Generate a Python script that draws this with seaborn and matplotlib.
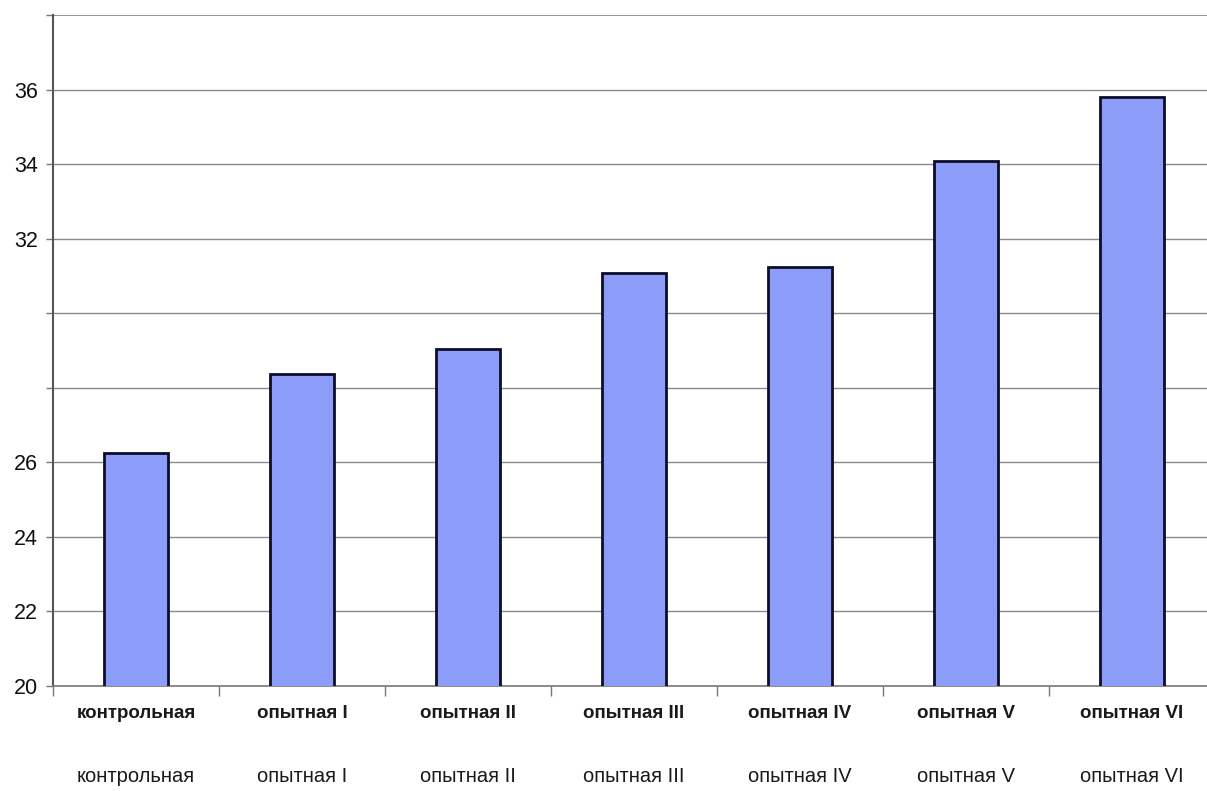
import matplotlib
matplotlib.use("Agg")
import matplotlib.pyplot as plt
import matplotlib.transforms as mtransforms
import seaborn as sns
import pandas as pd
import numpy as np

groups = ["контрольная", "опытная I", "опытная II", "опытная III",
          "опытная IV", "опытная V", "опытная VI"]
values = [26.25, 28.37, 29.04, 31.09, 31.25, 34.08, 35.8]
ytick_vals = [20, 22, 24, 26, 28, 30, 32, 34, 36, 38]
ytick_text = ["20", "22", "24", "26", "", "", "32", "34", "36", ""]

sns.set_theme(style="white")
plt.rcParams["font.family"] = ["Liberation Sans", "DejaVu Sans"]

df = pd.DataFrame({"group": groups, "value": values})

fig = plt.figure(figsize=(12.07, 7.91), dpi=100)
ax = fig.add_axes([53 / 1207, 1 - 686 / 791, (1215 - 53) / 1207, (686 - 15) / 791])

sns.barplot(data=df, x="group", y="value", color="#8b9cf9", width=0.39,
            edgecolor="#0d0d2a", linewidth=2.0, saturation=1, ax=ax, zorder=3)

ax.set_ylim(20, 38)
ax.set_xlim(-0.5, len(groups) - 0.5)
ax.set_yticks(ytick_vals)
ax.set_yticklabels(ytick_text, fontsize=15.5, color="#111111")
for y in ytick_vals[1:]:
    ax.axhline(y, color="#8a8a8a", lw=1.3 if y == 38 else 1.0, zorder=1)

ax.set_xticks(range(len(groups)))
ax.set_xticklabels(groups, fontsize=13.5, fontweight="bold", color="#1a1a1a")
ax.tick_params(axis="x", which="major", length=0, pad=14)
ax.set_xticks(np.arange(-0.5, len(groups), 1.0), minor=True)
ax.tick_params(axis="x", which="minor", length=7, width=1, color="#777777",
               direction="out", bottom=True)
ax.tick_params(axis="y", length=5, width=1, color="#777777", left=True,
               direction="out", pad=6)

ax.set_xlabel("")
ax.set_ylabel("")
for side in ["top", "right"]:
    ax.spines[side].set_visible(False)
ax.spines["left"].set_color("#555555")
ax.spines["left"].set_linewidth(1.5)
ax.spines["bottom"].set_color("#777777")
ax.spines["bottom"].set_linewidth(1.2)

# second row of group names under the axis
trans = mtransforms.blended_transform_factory(ax.transData, fig.transFigure)
for i, g in enumerate(groups):
    ax.text(i, 1 - 776 / 791, g, transform=trans, ha="center", va="center",
            fontsize=14.5, color="#1a1a1a")

fig.savefig("out.png", dpi=100, facecolor="white")
